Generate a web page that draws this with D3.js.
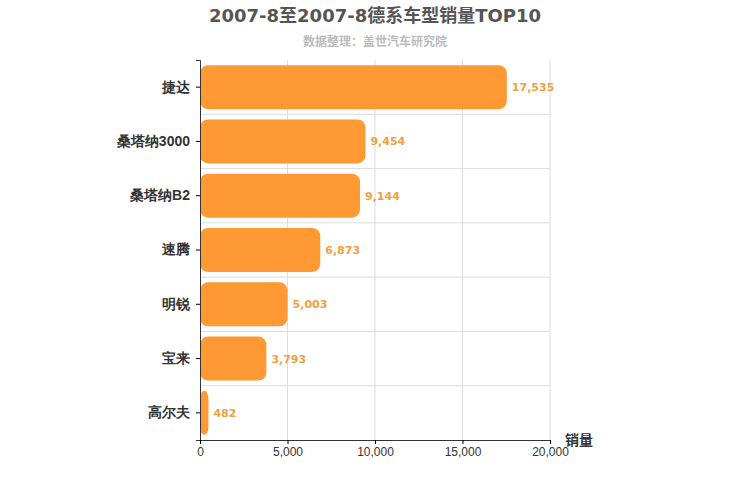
<!DOCTYPE html>
<html><head><meta charset="utf-8">
<script src="https://cdn.jsdelivr.net/npm/d3@7"></script>
<style>body{margin:0;background:#fff;font-family:"DejaVu Sans","Noto Sans CJK SC",sans-serif;}</style>
</head><body>
<svg id="chart" width="750" height="500"></svg>
<script>
const categories = ['捷达', '桑塔纳3000', '桑塔纳B2', '速腾', '明锐', '宝来', '高尔夫'];
const sales = [17535, 9454, 9144, 6873, 5003, 3793, 482];
const xTicks = [0, 5000, 10000, 15000, 20000];

const svg = d3.select('#chart');
const mLeft = 200, mRight = 550, mTop = 60, mBottom = 440;

const x = d3.scaleLinear().domain([0, 20000]).range([mLeft, mRight]);
const y = d3.scaleBand().domain(categories).range([mTop, mBottom]).paddingInner(0.19).paddingOuter(0.095);

// Grid
svg.append('g').selectAll('line').data(xTicks.slice(1)).enter().append('line')
  .attr('x1', d => x(d)).attr('x2', d => x(d)).attr('y1', mTop).attr('y2', mBottom)
  .attr('stroke', '#ddd');
const step = (mBottom - mTop) / categories.length;
svg.append('g').selectAll('line').data(d3.range(1, categories.length)).enter().append('line')
  .attr('x1', mLeft).attr('x2', mRight).attr('y1', d => mTop + d * step).attr('y2', d => mTop + d * step)
  .attr('stroke', '#ddd');

// Bars
svg.append('g').selectAll('rect').data(sales).enter().append('rect')
  .attr('x', x(0)).attr('y', (d, i) => y(categories[i]))
  .attr('width', d => x(d) - x(0)).attr('height', y.bandwidth())
  .attr('rx', 8).attr('fill', '#ff9933');

svg.append('g').selectAll('text').data(sales).enter().append('text')
  .attr('x', d => x(d) + 5).attr('y', (d, i) => y(categories[i]) + y.bandwidth() / 2 + 4)
  .attr('font-size', 11).attr('font-weight', 'bold').attr('fill', '#f0a040')
  .text(d => d3.format(',')(d));

// Axes
const yAxis = svg.append('g').attr('transform', `translate(${mLeft},0)`)
  .call(d3.axisLeft(y).tickSize(4).tickPadding(6));
yAxis.select('.domain').attr('stroke', '#333');
yAxis.selectAll('text').attr('font-size', 14).attr('font-weight', 'bold').attr('fill', '#333');

const xAxis = svg.append('g').attr('transform', `translate(0,${mBottom})`)
  .call(d3.axisBottom(x).tickValues(xTicks).tickFormat(d3.format(',')).tickSize(4));
xAxis.select('.domain').attr('stroke', '#333');
xAxis.selectAll('text').attr('font-size', 12).attr('fill', '#333');

svg.append('text').attr('x', 565).attr('y', 445).attr('font-size', 14).attr('font-weight', 'bold')
  .attr('fill', '#333').text('销量');

svg.append('text').attr('x', 375).attr('y', 22).attr('text-anchor', 'middle')
  .attr('font-size', 18).attr('font-weight', 'bold').attr('fill', '#555')
  .text('2007-8至2007-8德系车型销量TOP10');
svg.append('text').attr('x', 375).attr('y', 46).attr('text-anchor', 'middle')
  .attr('font-size', 12).attr('font-weight', 'bold').attr('fill', '#bbb').text('数据整理：盖世汽车研究院');
</script>
</body></html>
